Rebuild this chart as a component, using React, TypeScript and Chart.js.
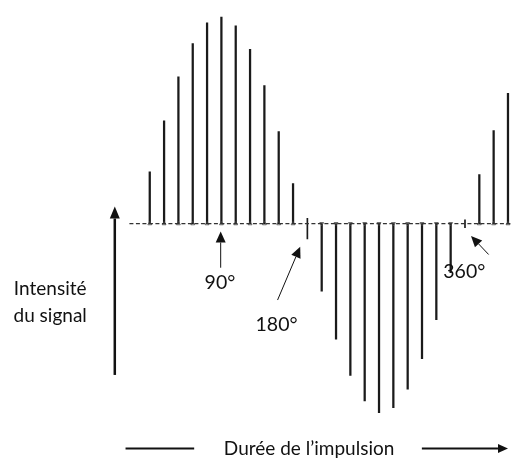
import React, { useEffect, useRef } from "react";
import { Chart, registerables } from "chart.js";

Chart.register(...registerables);

// Pulse index of each spike along the time axis (one spike per pulse step)
const posPulses = [0, 1, 2, 3, 4, 5, 6, 7, 8, 9, 10];
const posHeights = [53, 105, 150, 184, 205, 211, 202, 178, 141, 94, 41];
const negPulses = [12, 13, 14, 15, 16, 17, 18, 19, 20, 21];
const negHeights = [-69, -118, -155, -181, -193, -188, -169, -138, -98, -50];
const endPulses = [23, 24, 25];
const endHeights = [50, 95, 133];
const nullPulses = [11, 22];
const nullTicks: [number, number][] = [[-15.5, 5.5], [-4, 4]];

const angleLabels = ["90°", "180°", "360°"];
const angleLabelPos = [[4.9, -60], [8.85, -103], [21.95, -49]];
const angleArrowTail = [[4.95, -45], [8.92, -78], [23.65, -31.5]];
const angleArrowTip = [[4.95, -8], [10.5, -23.5], [22.42, -12.5]];

const yTitle = ["Intensité", "du signal"];
const xTitle = "Durée de l’impulsion";

const X_MIN = -10.1164;
const X_MAX = 25.2945;
const Y_MIN = -238.5;
const Y_MAX = 223.5;

const FONT = "Lato, 'Open Sans', sans-serif";

function arrow(ctx: CanvasRenderingContext2D, x1: number, y1: number, x2: number, y2: number, lw: number, head: number, hw: number) {
  const a = Math.atan2(y2 - y1, x2 - x1);
  const bx = x2 - head * Math.cos(a);
  const by = y2 - head * Math.sin(a);
  ctx.lineWidth = lw;
  ctx.beginPath();
  ctx.moveTo(x1, y1);
  ctx.lineTo(bx, by);
  ctx.stroke();
  ctx.beginPath();
  ctx.moveTo(x2, y2);
  ctx.lineTo(bx + hw * Math.sin(a), by - hw * Math.cos(a));
  ctx.lineTo(bx - hw * Math.sin(a), by + hw * Math.cos(a));
  ctx.closePath();
  ctx.fill();
}

const annotations = {
  id: "annotations",
  afterDatasetsDraw(chart: any) {
    const ctx: CanvasRenderingContext2D = chart.ctx;
    const xs = chart.scales.x;
    const ys = chart.scales.y;
    const X = (v: number) => xs.getPixelForValue(v);
    const Y = (v: number) => ys.getPixelForValue(v);
    ctx.save();
    ctx.strokeStyle = "#111";
    ctx.fillStyle = "#111";
    for (let i = 0; i < angleLabels.length; i++) {
      arrow(ctx, X(angleArrowTail[i][0]), Y(angleArrowTail[i][1]), X(angleArrowTip[i][0]), Y(angleArrowTip[i][1]), 1, 11, 5);
    }
    ctx.textAlign = "center";
    ctx.textBaseline = "middle";
    ctx.fillStyle = "#111";
    ctx.font = `19.5px ${FONT}`;
    for (let i = 0; i < angleLabels.length; i++) {
      ctx.fillText(angleLabels[i], X(angleLabelPos[i][0]), Y(angleLabelPos[i][1]));
    }
    ctx.font = `19px ${FONT}`;
    arrow(ctx, X(-2.44), Y(-154.5), X(-2.44), Y(17.5), 2.5, 12, 5);
    ctx.fillText(yTitle[0], X(-6.95), Y(-66.5));
    ctx.fillText(yTitle[1], X(-6.95), Y(-94.5));
    ctx.lineWidth = 2;
    ctx.beginPath();
    ctx.moveTo(X(-1.69), Y(-229.5));
    ctx.lineTo(X(3.1), Y(-229.5));
    ctx.stroke();
    arrow(ctx, X(18.99), Y(-229.5), X(25.0), Y(-229.5), 2, 10, 4.5);
    ctx.fillText(xTitle, X(11.12), Y(-229.5));
    ctx.restore();
  },
};

export default function App() {
  const ref = useRef<HTMLCanvasElement | null>(null);
  useEffect(() => {
    if (!ref.current) return;
    const toXY = (xs: number[], ys: number[]) => xs.map((x, i) => ({ x, y: ys[i] }));
    const spike = (xs: number[], ys: number[]) => ({
      data: toXY(xs, ys),
      backgroundColor: "#1a1a1a",
      barThickness: 1.6,
    });
    const feet = (xs: number[], up: boolean) => ({
      type: "scatter" as any,
      data: xs.map((x) => ({ x, y: 0 })),
      pointStyle: "triangle",
      pointRadius: 2.2,
      rotation: up ? 0 : 180,
      borderColor: "#444",
      backgroundColor: "rgba(0,0,0,0)",
      borderWidth: 0.8,
    });
    const chart = new Chart(ref.current, {
      type: "bar",
      data: {
        datasets: [
          {
            type: "line" as any,
            data: [{ x: -1.42, y: 0 }, { x: X_MAX, y: 0 }],
            borderColor: "#333",
            borderWidth: 1.2,
            borderDash: [4, 2.5],
            pointRadius: 0,
          } as any,
          feet(posPulses, true) as any,
          feet(negPulses, false) as any,
          feet(endPulses, true) as any,
          spike(posPulses, posHeights),
          spike(negPulses, negHeights),
          spike(endPulses, endHeights),
          {
            data: nullPulses.map((x, i) => ({ x, y: nullTicks[i] })),
            backgroundColor: "#1a1a1a",
            barThickness: 1,
          } as any,
        ],
      },
      options: {
        animation: false,
        responsive: true,
        maintainAspectRatio: false,
        layout: { padding: 0 },
        plugins: { legend: { display: false }, tooltip: { enabled: false } },
        datasets: { bar: { grouped: false } } as any,
        scales: {
          x: { type: "linear", min: X_MIN, max: X_MAX, display: false, offset: false },
          y: { type: "linear", min: Y_MIN, max: Y_MAX, display: false },
        },
      },
      plugins: [annotations],
    });
    return () => chart.destroy();
  }, []);
  return (
    <div style={{ position: "fixed", left: 0, top: 0, width: 517, height: 462, background: "#fff" }}>
      <canvas ref={ref} />
    </div>
  );
}
